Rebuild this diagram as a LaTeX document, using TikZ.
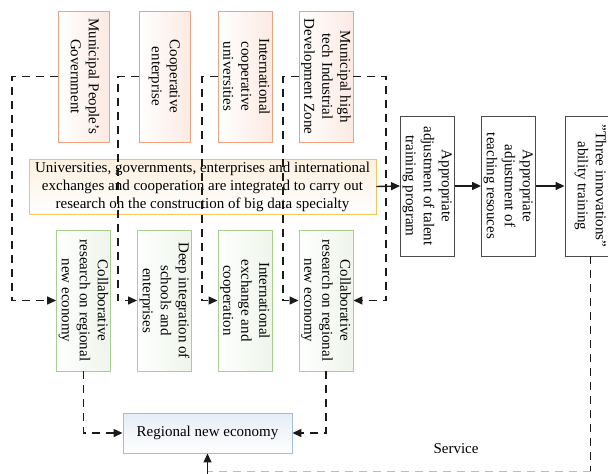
\documentclass[tikz,border=0pt]{standalone}
\usepackage{fontspec}
\setmainfont{Liberation Serif}
\usepackage{graphicx}
\usetikzlibrary{arrows.meta}

\definecolor{orangeedge}{HTML}{EFA27F}
\definecolor{orangefill}{HTML}{FCEAE3}
\definecolor{goldedge}{HTML}{F2C65E}
\definecolor{goldfill}{HTML}{FDF0DF}
\definecolor{greenedge}{HTML}{A8CF8E}
\definecolor{greenfill}{HTML}{EEF5EA}
\definecolor{blueedge}{HTML}{A3BCDC}
\definecolor{bluefill}{HTML}{E6EDF7}
\definecolor{inkline}{HTML}{1A1A1A}
\definecolor{plainedge}{HTML}{4A4A4A}
\definecolor{servicegray}{HTML}{BBBBBB}

% rotated, centred multi-line label reading top to bottom
\newcommand\sidetext[1]{\rotatebox{-90}{\begin{tabular}{@{}c@{}}#1\end{tabular}}}

\begin{document}
\begin{tikzpicture}[x=1pt,y=-1pt,
  base/.style={draw, line width=0.9pt, inner sep=0pt,
    font=\fontsize{15}{18}\selectfont},
  topbox/.style={base, draw=orangeedge, left color=white, right color=orangefill,
    minimum width=51pt, minimum height=131pt},
  lowbox/.style={base, draw=greenedge, left color=white, right color=greenfill,
    minimum width=51pt, minimum height=141pt},
  stagebox/.style={base, draw=plainedge, line width=0.9pt, fill=white,
    minimum width=51pt, minimum height=140pt},
  widebox/.style={base, draw=goldedge, top color=goldfill, bottom color=white,
    minimum width=347pt, minimum height=55pt, align=center},
  ecobox/.style={base, draw=blueedge, top color=bluefill, bottom color=white,
    minimum width=169pt, minimum height=40pt},
  dline/.style={draw=inkline, line width=1.4pt, dash pattern=on 8pt off 6pt},
  sline/.style={draw=inkline, line width=1.4pt},
  tip/.style={-{Triangle[length=9pt,width=8pt]}}
]
\useasboundingbox (0,0) rectangle (608,474);
\clip (0,0) rectangle (608,474);

% partners
\node[topbox] (t1) at (83.5,76.5) {\sidetext{Municipal People's\\Government}};
\node[topbox] (t2) at (164.5,76.5) {\sidetext{Cooperative\\enterprise}};
\node[topbox] (t3) at (245,76.5) {\sidetext{International\\cooperative\\universities}};
\node[topbox] (t4) at (326,76.5) {\sidetext{Municipal high\\tech Industrial\\Development Zone}};

% integration
\node[widebox] (mid) at (202.5,186.5) {Universities, governments, enterprises and international\\exchanges and cooperation are integrated to carry out\\research on the construction of big data specialty};

% cooperation fields
\node[lowbox] (g1) at (83.5,300.5) {\sidetext{Collaborative\\research on regional\\new economy}};
\node[lowbox] (g2) at (164.5,300.5) {\sidetext{Deep integration of\\schools and\\enterprises}};
\node[lowbox] (g3) at (245,300.5) {\sidetext{International\\exchange and\\cooperation}};
\node[lowbox] (g4) at (326,300.5) {\sidetext{Collaborative\\research on regional\\new economy}};

% training chain
\node[stagebox] (sa) at (427.5,186) {\sidetext{Appropriate\\adjustment of talent\\training program}};
\node[stagebox] (sb) at (508.5,186) {\sidetext{Appropriate\\adjustment of\\teaching resouces}};
\node[stagebox] (sc) at (590.5,186) {\sidetext{"Three innovations"\\ability training}};

\node[ecobox] (eco) at (207.5,433) {Regional new economy};
\node[font=\fontsize{15}{18}\selectfont] (svc) at (456,449) {Service};

% bend points
\coordinate (b1) at (12,300.5);
\coordinate (b2) at (118,300.5);
\coordinate (b3) at (202,300.5);
\coordinate (b4) at (283,300.5);
\coordinate (b5) at (386,300.5);
\coordinate (cr) at (590.5,471.5);
\coordinate (cl) at (207.5,471.5);

% partner to field links
\draw[dline,tip] (t1.west) -| (b1) -- (g1.west);
\draw[dline,tip] (t2.west) -| (b2) -- (g2.west);
\draw[dline,tip] (t3.west) -| (b3) -- (g3.west);
\draw[dline,tip] (t4.west) -| (b4) -- (g4.west);
\draw[dline,tip] (t4.east) -| (b5) -- (g4.east);

% fields to regional economy
\draw[dline,tip] (g1.south) |- (eco.west);
\draw[dline,tip] (g4.south) |- (eco.east);

% main chain
\draw[sline,tip] (mid.east) -- (sa.west);
\draw[sline,tip] (sa.east) -- (sb.west);
\draw[sline,tip] (sb.east) -- (sc.west);

% service loop
\draw[dline] (sc.south) -- (cr);
\draw[dline,draw=servicegray] (cr) -- (cl);
\draw[sline,tip] ([yshift=-5pt]cl) -- (eco.south);
\end{tikzpicture}
\end{document}
